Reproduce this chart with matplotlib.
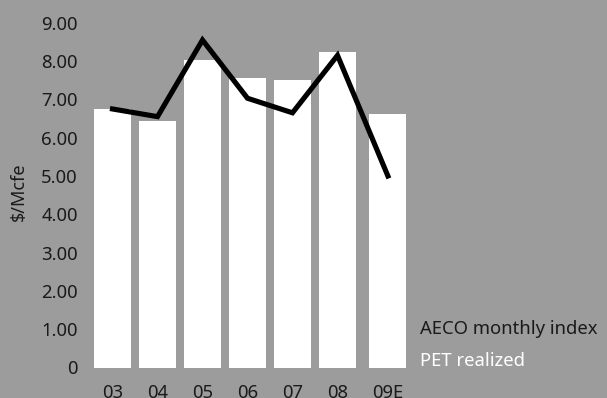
import matplotlib
matplotlib.use("Agg")
from matplotlib import pyplot as plt

years = ["03", "04", "05", "06", "07", "08", "09E"]
pet_realized = [6.76, 6.44, 8.02, 7.57, 7.50, 8.23, 6.62]
aeco_index = [6.75, 6.55, 8.55, 7.03, 6.65, 8.15, 5.00]
y_ticks = [0, 1, 2, 3, 4, 5, 6, 7, 8, 9]
y_tick_labels = ["0"] + [f"{v:.2f}" for v in y_ticks[1:]]

BG = "#9c9c9c"
TEXT = "#1a1a1a"
W, H = 607, 398
FS = 13.3

plt.rcParams['font.family'] = ['Noto Sans', 'DejaVu Sans']

fig = plt.figure(figsize=(W / 100, H / 100), dpi=100, facecolor=BG)
# axes placed in pixel terms: data zero sits at y=367.5px, first bar centre at x=112.5px
left_px, bottom_px = 80, H - 367.5
ax = fig.add_axes([left_px / W, bottom_px / H, 1 - left_px / W, 1 - bottom_px / H])
ax.set_facecolor(BG)

# last (estimate) bar sits a little apart from the others
x = [0, 1, 2, 3, 4, 5, 6.12]
ax.bar(x, pet_realized, width=0.82, color="white", zorder=2)
ax.plot(x, aeco_index, color="black", linewidth=3.7, solid_joinstyle="miter", zorder=3)

ax.set_xlim((left_px - 112.5) / 45, (W - 112.5) / 45)
ax.set_ylim(0, 367.5 / 38.3)

ax.set_yticks(y_ticks)
ax.set_yticklabels(y_tick_labels)
ax.set_xticks(x)
ax.set_xticklabels(years)
ax.tick_params(axis="y", length=0, pad=1.5, labelsize=FS, labelcolor=TEXT)
ax.tick_params(axis="x", length=0, pad=12, labelsize=FS, labelcolor=TEXT)
for s in ax.spines.values():
    s.set_visible(False)

fig.text(19 / W, 1 - 192 / H, "$/Mcfe", rotation=90, ha="center", va="center",
         fontsize=13, color=TEXT)

# legend entries as plain text
fig.text(420 / W, 1 - 329 / H, "AECO monthly index", ha="left", va="center",
         fontsize=FS, color=TEXT)
fig.text(420 / W, 1 - 361 / H, "PET realized", ha="left", va="center",
         fontsize=FS, color="white")

fig.savefig("out.png", dpi=100, facecolor=BG)
